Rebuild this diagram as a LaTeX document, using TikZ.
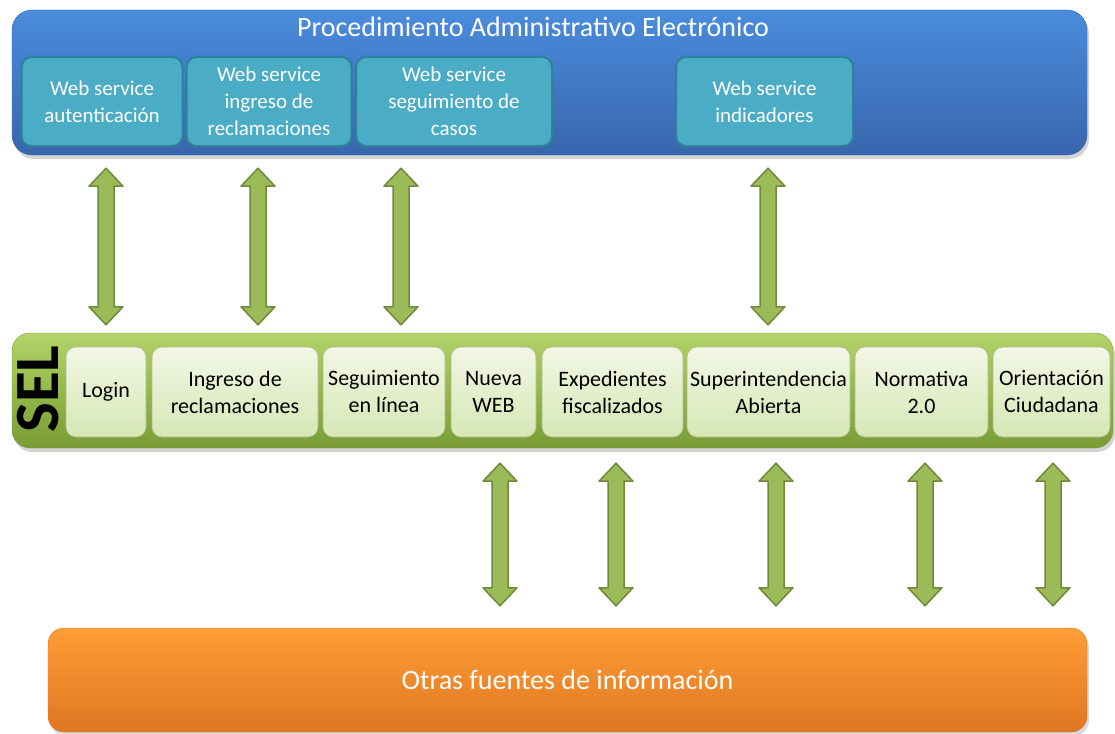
\documentclass[tikz,border=0pt]{standalone}
\usepackage{fontspec}
\setmainfont{Carlito}
\usetikzlibrary{calc,shadows}
\definecolor{paeTop}{HTML}{4A8CDD}
\definecolor{paeBot}{HTML}{3866AC}
\definecolor{wsFill}{HTML}{4BACC6}
\definecolor{wsBorder}{HTML}{2F8199}
\definecolor{selTop}{HTML}{B4D36A}
\definecolor{selMid}{HTML}{94B84A}
\definecolor{selBot}{HTML}{7A9B36}
\definecolor{itemTop}{HTML}{F2F7E6}
\definecolor{itemBot}{HTML}{D6E7B4}
\definecolor{arrowFill}{HTML}{9BBB59}
\definecolor{arrowBorder}{HTML}{6E8A3A}
\definecolor{othTop}{HTML}{FF9D36}
\definecolor{othBot}{HTML}{DE7722}
\begin{document}
\begin{tikzpicture}[x=1pt,y=-1pt,
    wsbox/.style={rounded corners=10pt, draw=wsBorder, line width=2pt, fill=wsFill, text=white, minimum height=89pt, align=center, font=\fontsize{21}{27}\selectfont},
    selbox/.style={rounded corners=10pt, draw=itemBot!80!black, line width=0.6pt, top color=itemTop, bottom color=itemBot, minimum height=90pt, inner xsep=1pt, align=center, font=\fontsize{22}{27}\selectfont},
    fatarrow/.style={draw=arrowBorder, fill=arrowFill, line width=1.5pt, line join=round,
        to path={let \p1=(\tikztostart), \p2=(\tikztotarget) in
            (\x1,\y1) -- (\x1+17pt,\y1-18pt) -- (\x1+8pt,\y1-18pt) -- (\x1+8pt,\y2+18pt) -- (\x1+17pt,\y2+18pt) -- (\x2,\y2)
            -- (\x1-17pt,\y2+18pt) -- (\x1-8pt,\y2+18pt) -- (\x1-8pt,\y1-18pt) -- (\x1-17pt,\y1-18pt) -- cycle}}]
    \useasboundingbox (0,0) rectangle (1115,733);

    % top block
    \node[rounded corners=20pt, draw=paeBot, top color=paeTop, bottom color=paeBot, minimum width=1075pt, minimum height=145pt, drop shadow={opacity=0.35, shadow xshift=2pt, shadow yshift=-4pt}] (pae) at (549.5,82.5) {};
    \node[text=white, font=\fontsize{28}{32}\selectfont] (paetitle) at (533,27) {Procedimiento Administrativo Electrónico};
    \node[wsbox, minimum width=161pt] (ws1) at (102,101.5) {Web service\\autenticación};
    \node[wsbox, minimum width=165pt] (ws2) at (269,101.5) {Web service\\ingreso de\\reclamaciones};
    \node[wsbox, minimum width=196pt] (ws3) at (454,101.5) {Web service\\seguimiento de\\casos};
    \node[wsbox, minimum width=177pt] (ws4) at (764.5,101.5) {Web service\\indicadores};

    % SEL bar
    \node[rounded corners=18pt, draw=selBot, top color=selTop, bottom color=selBot, middle color=selMid, minimum width=1101pt, minimum height=115pt, drop shadow={opacity=0.35, shadow xshift=2pt, shadow yshift=-4pt}] (sel) at (562.5,390.5) {};
    \node[rotate=90, font=\fontsize{63}{63}\selectfont\bfseries] (sellabel) at (38,389) {SEL};
    \node[selbox, minimum width=80pt] (login) at (106,392) {Login};
    \node[selbox, minimum width=166pt] (ingreso) at (235,392) {Ingreso de\\reclamaciones};
    \node[selbox, minimum width=122pt] (seguim) at (384,392) {Seguimiento\\en línea};
    \node[selbox, minimum width=85pt] (nueva) at (493.5,392) {Nueva\\WEB};
    \node[selbox, minimum width=141pt] (exped) at (612.5,392) {Expedientes\\fiscalizados};
    \node[selbox, minimum width=163pt] (superint) at (768.5,392) {Superintendencia\\Abierta};
    \node[selbox, minimum width=133pt] (normativa) at (921.5,392) {Normativa\\2.0};
    \node[selbox, minimum width=117pt] (orient) at (1051.5,392) {Orientación\\Ciudadana};

    % bottom block
    \node[rounded corners=16pt, draw=othBot, top color=othTop, bottom color=othBot, minimum width=1039pt, minimum height=104pt, text=white, font=\fontsize{28}{32}\selectfont, drop shadow={opacity=0.3, shadow xshift=2pt, shadow yshift=-4pt}] (otras) at (567.5,680) {Otras fuentes de información};

    % arrows
    \foreach[count=\i] \x in {106,258,401,768}
    {
        \coordinate (up\i) at (\x,0);
        \draw[fatarrow] ($(pae.south -| up\i)+(0,13)$) to ($(sel.north -| up\i)+(0,-8)$);
    }
    \foreach[count=\i] \x in {500,616,776,925,1053}
    {
        \coordinate (down\i) at (\x,0);
        \draw[fatarrow] ($(sel.south -| down\i)+(0,15)$) to ($(otras.north -| down\i)+(0,-22)$);
    }
\end{tikzpicture}
\end{document}
